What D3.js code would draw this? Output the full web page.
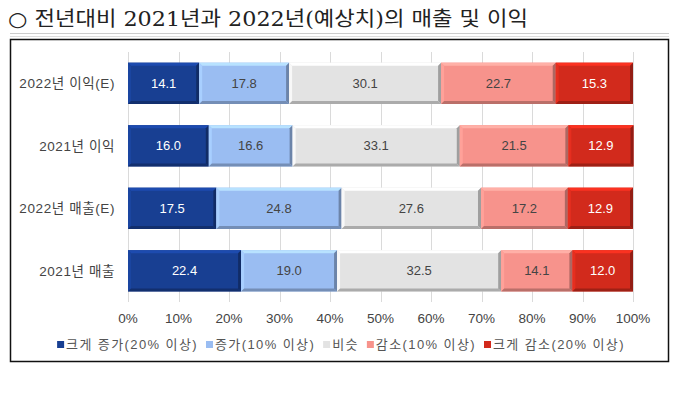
<!DOCTYPE html>
<html>
<head>
<meta charset="utf-8">
<script src="https://cdn.jsdelivr.net/npm/d3@7"></script>
<style>
  body { margin: 0; background: #fff; }
  svg { display: block; }
</style>
</head>
<body>
<div id="chart"></div>
<script>
// chart data
const categories = ['2022년 이익(E)', '2021년 이익', '2022년 매출(E)', '2021년 매출'];
const seriesNames = ['크게 증가(20% 이상)', '증가(10% 이상)', '비슷', '감소(10% 이상)', '크게 감소(20% 이상)'];
const bigUp = [14.1, 16.0, 17.5, 22.4];
const up = [17.8, 16.6, 24.8, 19.0];
const same = [30.1, 33.1, 27.6, 32.5];
const down = [22.7, 21.5, 17.2, 14.1];
const bigDown = [15.3, 12.9, 12.9, 12.0];
const xTicks = [0, 10, 20, 30, 40, 50, 60, 70, 80, 90, 100];
const titleText = '○ 전년대비 2021년과 2022년(예상치)의 매출 및 이익';

const colors = ['#183f92', '#9abdf2', '#e3e3e3', '#f7938c', '#d22a1c'];
const textColors = ['#fff', '#444', '#444', '#444', '#fff'];

const W = 693, H = 393;
const svg = d3.select('#chart').append('svg').attr('width', W).attr('height', H);
const font = '"Liberation Sans", "Noto Sans CJK KR", sans-serif';

// title
svg.append('text')
  .attr('x', 8).attr('y', 26)
  .attr('textLength', 520).attr('lengthAdjust', 'spacingAndGlyphs')
  .style('font-family', '"DejaVu Serif", "Noto Sans CJK KR", serif')
  .style('font-size', '20px')
  .attr('fill', '#222')
  .text(titleText);

// double rule above the box
svg.append('line').attr('x1', 10).attr('x2', 669).attr('y1', 33.5).attr('y2', 33.5).attr('stroke', '#ccc');
svg.append('line').attr('x1', 10).attr('x2', 669).attr('y1', 36.5).attr('y2', 36.5).attr('stroke', '#ddd');

// chart box
svg.append('rect')
  .attr('x', 10.5).attr('y', 39.5).attr('width', 658).attr('height', 322)
  .attr('fill', '#fff').attr('stroke', '#111').attr('stroke-width', 1.5);

const x = d3.scaleLinear().domain([0, 100]).range([128, 633]);
const y = d3.scaleBand().domain(categories).range([52, 302]).paddingInner(0.34).paddingOuter(0.17);

// grid
svg.append('g').selectAll('line').data(xTicks).join('line')
  .attr('x1', d => Math.round(x(d)) + 0.5).attr('x2', d => Math.round(x(d)) + 0.5)
  .attr('y1', 52).attr('y2', 302)
  .attr('stroke', '#dadada');

// stacked segments
const table = categories.map((c, i) => ({
  cat: c, vals: [bigUp[i], up[i], same[i], down[i], bigDown[i]]
}));
const segs = [];
table.forEach(r => {
  let acc = 0;
  r.vals.forEach((v, k) => {
    segs.push({ cat: r.cat, k, v, x0: acc, x1: acc + v });
    acc += v;
  });
});

const b = 3;
const g = svg.append('g');
segs.forEach(s => {
  const x0 = x(s.x0), x1 = x(s.x1), y0 = y(s.cat), y1 = y0 + y.bandwidth();
  const c = d3.color(colors[s.k]);
  const sg = g.append('g');
  sg.append('rect').attr('x', x0).attr('y', y0).attr('width', x1 - x0).attr('height', y1 - y0).attr('fill', c);
  // bevel edges
  const poly = (pts, fill) => sg.append('polygon').attr('points', pts.map(p => p.join(',')).join(' ')).attr('fill', fill);
  poly([[x0, y0], [x1, y0], [x1 - b, y0 + b], [x0 + b, y0 + b]], c.brighter(0.5));
  poly([[x0, y0], [x0 + b, y0 + b], [x0 + b, y1 - b], [x0, y1]], c.brighter(0.25));
  poly([[x1, y0], [x1, y1], [x1 - b, y1 - b], [x1 - b, y0 + b]], c.darker(1));
  poly([[x0, y1], [x1, y1], [x1 - b, y1 - b], [x0 + b, y1 - b]], c.darker(0.8));
  sg.append('text')
    .attr('x', (x0 + x1) / 2).attr('y', (y0 + y1) / 2 + 4.5)
    .attr('text-anchor', 'middle')
    .style('font-family', font).style('font-size', '13px')
    .attr('fill', textColors[s.k])
    .text(s.v.toFixed(1));
});

// category labels
svg.append('g').selectAll('text').data(categories).join('text')
  .attr('x', 115).attr('y', d => y(d) + y.bandwidth() / 2 + 5)
  .attr('text-anchor', 'end')
  .style('font-family', font).style('font-size', '13.5px')
  .style('letter-spacing', '0.6px')
  .attr('fill', '#444')
  .text(d => d);

// x tick labels
svg.append('g').selectAll('text').data(xTicks).join('text')
  .attr('x', d => x(d)).attr('y', 323)
  .attr('text-anchor', 'middle')
  .style('font-family', font).style('font-size', '13.5px')
  .attr('fill', '#444')
  .text(d => d + '%');

// legend
const lg = svg.append('g');
let lx = 0;
seriesNames.forEach((n, k) => {
  const it = lg.append('g').attr('transform', `translate(${lx},0)`);
  it.append('rect').attr('x', 0).attr('y', -8).attr('width', 7).attr('height', 7).attr('fill', colors[k]);
  const t = it.append('text').attr('x', 9).attr('y', 0)
    .style('font-family', font).style('font-size', '13px')
    .style('letter-spacing', '1.4px')
    .attr('fill', '#555').text(n);
  lx += 9 + t.node().getComputedTextLength() + 8;
});
lx -= 8;
lg.attr('transform', `translate(${341 - lx / 2},349)`);
</script>
</body>
</html>
